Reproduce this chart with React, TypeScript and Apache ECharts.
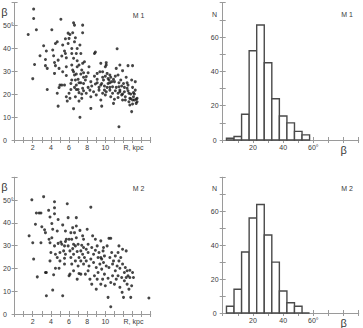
import React, { useEffect, useRef } from "react";
import * as echarts from "echarts";

// Scatter data: [R (kpc), beta (deg)]
const scatterM1: number[][] = [
  [1.5,46.1],[2.1,57.2],[2.1,53.1],[2.4,48.2],[2.0,26.8],[2.2,33.0],[2.8,36.8],[3.2,41.2],[3.4,35.2],[3.4,32.5],
  [3.6,31.3],[3.5,38.9],[3.6,22.1],[4.1,48.2],[4.2,39.3],[4.3,36.8],[4.4,33.9],[4.4,29.1],[4.5,32.5],[4.5,42.2],
  [4.7,42.9],[4.8,34.9],[4.9,31.3],[5.0,24.0],[4.9,22.9],[4.7,20.4],[4.8,14.8],[5.2,24.0],[5.1,52.8],[5.2,36.7],
  [5.3,29.8],[5.5,24.0],[5.5,38.9],[5.6,44.2],[5.6,37.8],[5.7,35.9],[5.7,32.0],[5.7,28.2],[5.8,17.0],[5.9,46.7],
  [5.9,42.2],[6.1,46.1],[6.1,18.2],[6.2,22.1],[6.3,40.0],[6.3,32.8],[6.4,30.6],[6.5,13.7],[6.5,51.2],[6.6,50.2],
  [6.4,46.9],[6.6,42.9],[6.7,44.7],[6.5,35.7],[6.5,29.8],[6.6,28.4],[6.6,23.0],[6.7,26.2],[6.7,18.9],[6.8,24.0],
  [6.9,40.0],[6.9,34.6],[6.9,32.0],[7.0,26.5],[7.0,22.1],[7.1,17.0],[7.2,9.9],[7.2,41.5],[7.3,37.8],[7.3,28.8],
  [7.3,25.0],[7.4,18.2],[7.5,50.2],[7.5,46.9],[7.5,33.5],[7.6,29.4],[7.6,24.7],[7.6,21.5],[7.7,34.2],[7.8,26.2],
  [7.9,27.7],[8.1,29.4],[8.2,32.0],[8.3,21.8],[8.4,13.8],[8.4,25.5],[8.5,23.6],[8.8,27.9],[8.8,37.8],[8.9,38.4],
  [9.0,19.7],[9.1,25.0],[9.1,29.1],[9.3,21.8],[9.4,29.8],[9.5,33.5],[9.5,17.5],[9.6,14.8],[9.6,24.7],[9.7,29.8],
  [9.8,26.2],[9.9,21.8],[10.0,19.7],[10.1,33.8],[10.1,32.8],[10.2,29.1],[10.3,24.7],[10.4,26.2],[10.5,23.0],[10.5,28.4],
  [10.6,18.9],[10.7,25.5],[10.8,20.4],[10.9,16.0],[11.0,25.5],[11.1,21.5],[11.2,31.3],[11.3,39.9],[11.4,28.4],[11.5,23.3],
  [11.5,5.8],[11.6,21.8],[11.6,32.8],[11.7,26.2],[11.8,19.7],[11.9,30.3],[12.0,24.7],[12.1,21.1],[12.2,17.5],[12.3,27.4],
  [12.4,22.6],[12.5,32.5],[12.5,24.0],[12.6,20.4],[12.7,15.3],[12.8,18.0],[12.9,12.4],[13.0,32.5],[13.0,23.0],[13.1,20.7],
  [13.2,17.5],[13.3,25.5],[13.3,21.8],[13.4,16.0],[13.5,18.2],[12.9,26.2],
  [9.5,24.0],[9.7,27.4],[9.9,23.6],[10.0,27.9],[10.2,23.0],[10.3,26.9],[10.5,25.0],[10.6,27.4],[10.8,23.3],[10.9,26.5],
  [11.1,27.9],[11.2,23.0],[11.4,20.4],[11.5,25.0],[11.6,21.1],[11.8,23.6],[11.9,20.1],[12.1,23.0],[12.2,18.9],[12.4,25.0],
  [12.5,21.5],[12.7,18.2],[12.8,20.1],[13.0,17.5],[13.1,18.9],[13.2,20.1],[13.4,17.8],[13.5,16.7],[13.0,15.7],[12.6,16.7],
  [11.9,17.5],[11.4,18.6],[11.0,17.8],[10.5,21.8],[10.1,21.1],[9.7,20.4],[9.3,23.0],[9.1,26.5],[8.9,24.5],[8.7,21.1],
  [8.4,18.9],[8.1,23.0],[7.9,20.4],[7.6,27.4],[7.5,22.6],[7.4,20.1],[7.1,25.0],[7.1,20.7],[6.8,22.1],[6.8,28.8],
  [6.3,26.2],[6.2,24.7],[6.0,20.4],[5.7,18.9],[6.0,44.4],[6.3,37.8],[6.8,37.8],[7.1,32.8],[7.4,30.6],[5.3,41.5],[10.0,32.0]
];

const scatterM2: number[][] = [
  [1.6,34.3],[1.9,50.1],[2.0,31.3],[2.1,24.1],[2.3,39.4],[2.4,44.3],[2.5,16.3],[2.7,44.3],[2.9,44.3],[2.9,31.3],
  [3.0,38.3],[3.2,51.5],[3.3,37.0],[3.4,35.7],[3.4,18.2],[3.5,18.2],[3.5,8.0],[3.75,45.5],[3.8,32.8],[3.9,31.3],
  [3.9,23.3],[3.9,42.6],[4.0,27.0],[4.1,33.5],[4.1,39.7],[4.2,37.2],[4.2,10.5],[4.3,17.2],[4.4,49.3],[4.4,46.6],
  [4.4,44.0],[4.4,29.9],[4.5,26.2],[4.5,20.1],[4.7,24.8],[4.7,36.4],[4.8,41.5],[4.8,31.0],[4.9,20.1],[5.0,27.0],
  [5.0,23.3],[5.1,31.6],[5.2,30.6],[5.3,8.0],[5.3,39.1],[5.4,27.7],[5.5,29.9],[5.5,24.5],[5.5,21.9],[5.6,31.8],
  [5.6,36.4],[5.6,26.2],[5.7,32.8],[5.8,48.4],[5.9,42.3],[5.9,29.9],[6.0,32.8],[6.1,17.5],[6.1,27.7],[6.2,35.7],
  [6.2,24.8],[6.3,21.9],[6.3,32.8],[6.4,28.7],[6.4,37.9],[6.5,19.0],[6.5,26.2],[6.6,35.7],[6.7,29.9],[6.7,23.3],
  [6.8,42.3],[6.8,38.6],[6.8,33.5],[6.9,27.4],[7.0,21.1],[7.0,30.6],[7.1,24.8],[7.1,17.8],[7.2,36.7],[7.3,27.7],
  [7.3,23.3],[7.3,17.5],[7.4,30.2],[7.5,26.2],[7.6,21.9],[7.6,29.2],[7.7,24.8],[7.8,17.5],[7.9,28.4],[7.9,23.3],
  [8.0,37.2],[8.1,30.6],[8.1,27.0],[8.2,21.1],[8.3,15.3],[8.4,24.1],[8.4,46.9],[8.5,29.2],[8.5,13.1],[8.6,34.3],
  [8.7,26.2],[8.7,22.6],[8.8,16.8],[8.9,32.8],[8.9,28.0],[9.0,20.4],[9.0,10.9],[9.1,29.9],[9.2,24.8],[9.2,18.2],
  [9.3,27.0],[9.4,21.9],[9.5,13.1],[9.5,32.1],[9.6,24.1],[9.6,19.7],[9.7,15.3],[9.75,27.7],[9.8,22.6],[9.9,17.5],
  [9.9,25.5],[10.0,12.4],[10.1,21.1],[10.2,29.9],[10.3,15.7],[10.3,7.3],[10.4,20.4],[10.4,33.2],[10.5,24.8],[10.6,33.2],
  [10.6,13.8],[10.6,3.2],[10.7,27.0],[10.8,21.9],[10.8,16.8],[10.9,23.3],[11.0,13.1],[11.1,19.0],[11.1,25.5],[11.2,15.3],
  [11.3,21.1],[11.4,27.0],[11.4,16.8],[11.5,23.3],[11.6,11.7],[11.6,20.1],[11.7,24.8],[11.8,16.0],[11.85,9.5],[11.9,21.9],
  [12.0,7.3],[12.1,18.2],[12.1,14.6],[12.2,20.4],[12.3,16.0],[12.4,19.0],[12.4,13.1],[12.5,16.8],[12.6,10.9],[12.7,19.2],
  [12.7,16.0],[12.8,7.3],[12.9,12.4],[13.0,18.2],[13.1,16.0],[14.8,7.0],[12.3,27.7],[11.9,28.4],[11.5,29.9],
  [6.5,30.6],[7.6,32.8],[8.1,19.0],[9.1,15.3],[9.5,24.8],[9.8,29.2],[7.5,34.3],[6.0,16.8],[6.9,15.3]
];

// Histogram data: bin centres (deg) and counts N
const binCentres = [5, 10, 15, 20, 25, 30, 35, 40, 45, 50, 55];
const countsM1 = [1, 2, 15, 52, 67, 45, 24, 14, 10, 5, 3];
const countsM2 = [4, 14, 36, 56, 64, 46, 30, 13, 6, 4, 0];
const BIN_WIDTH = 5;

const scatterXLabels: Record<number, string> = { 2: "2", 4: "4", 6: "6", 8: "8", 10: "10", 12: "{r|R, kpc}" };
const scatterYLabels: Record<number, string> = { 0: "0", 10: "10", 20: "20", 30: "30", 40: "40", 50: "50°" };
const histXLabels: Record<number, string> = { 20: "20", 40: "40", 60: "60°", 80: "{b|β}" };
const histYLabels: Record<number, string> = { 0: "0", 20: "20", 40: "40", 60: "60" };

const FONT = "Liberation Sans, Arial, sans-serif";
const LINE = "#9a9a9a";
const TXT = "#3a3a3a";

export default function App() {
  const ref = useRef<HTMLDivElement>(null);
  useEffect(() => {
    if (!ref.current) return;
    const chart = echarts.init(ref.current, null, { renderer: "svg" });

    const grids = [
      { left: 13.3, top: 2.7, width: 137.4, height: 137.3 },
      { left: 222.7, top: 2.7, width: 136, height: 137.3 },
      { left: 13.3, top: 177.3, width: 137.4, height: 136.7 },
      { left: 222.7, top: 177.3, width: 136, height: 136.7 },
    ];

    const lineStyle = { color: LINE, width: 1 };
    const tick = { show: true, inside: true, length: 3, lineStyle: { color: LINE, width: 1 } };
    const xAxes: any[] = [];
    const yAxes: any[] = [];
    grids.forEach((_, gi) => {
      const isHist = gi % 2 === 1;
      const xMax = isHist ? 90 : 15;
      const xInt = isHist ? 10 : 1;
      const yMax = isHist ? 80 : 60;
      const xl = isHist ? histXLabels : scatterXLabels;
      const yl = isHist ? histYLabels : scatterYLabels;
      xAxes.push({
        type: "value", gridIndex: gi, position: "bottom", min: 0, max: xMax, interval: xInt,
        axisLine: { show: true, lineStyle }, axisTick: tick, splitLine: { show: false },
        axisLabel: {
          show: true, margin: 4, fontSize: 7, color: TXT, fontFamily: FONT,
          showMinLabel: true, showMaxLabel: true,
          formatter: (v: number) => xl[v] ?? "",
          rich: {
            r: { fontSize: 7, color: TXT, fontFamily: FONT, padding: [0, 0, 0, 20] },
            b: { fontSize: 11, color: TXT, fontFamily: FONT },
          },
        },
      });
      xAxes.push({
        type: "value", gridIndex: gi, position: "top", min: 0, max: xMax, interval: xInt,
        axisLine: { show: true, lineStyle }, axisTick: tick, splitLine: { show: false },
        axisLabel: { show: false },
      });
      yAxes.push({
        type: "value", gridIndex: gi, position: "left", min: 0, max: yMax, interval: 10,
        axisLine: { show: true, lineStyle }, axisTick: tick, splitLine: { show: false },
        axisLabel: isHist
          ? { show: true, margin: 8, align: "center", fontSize: 7, color: TXT, fontFamily: FONT,
              showMinLabel: true, showMaxLabel: true, formatter: (v: number) => yl[v] ?? "" }
          : { show: true, margin: 11.6, align: "left", fontSize: 7, color: TXT, fontFamily: FONT,
              showMinLabel: true, showMaxLabel: true, formatter: (v: number) => yl[v] ?? "" },
      });
      yAxes.push({
        type: "value", gridIndex: gi, position: "right", min: 0, max: yMax, interval: 10,
        axisLine: { show: true, lineStyle }, axisTick: tick, splitLine: { show: false },
        axisLabel: { show: false },
      });
    });

    const histRender = (params: any, api: any) => {
      const c = api.value(0);
      const n = api.value(1);
      const p0 = api.coord([c - BIN_WIDTH / 2, n]);
      const p1 = api.coord([c + BIN_WIDTH / 2, 0]);
      return {
        type: "rect",
        shape: { x: p0[0], y: p0[1], width: p1[0] - p0[0], height: p1[1] - p0[1] },
        style: { fill: "#ffffff", stroke: "#4a4a4a", lineWidth: 1.4 },
      };
    };

    const histData = (counts: number[]) => binCentres.map((c, i) => [c, counts[i]]);

    const txt = (x: number, y: number, text: string, size: number, align: string) => ({
      type: "text", x, y,
      style: { text, fontSize: size, fontFamily: FONT, fill: TXT, align, verticalAlign: "middle" },
      z: 10,
    });

    chart.setOption({
      animation: false,
      grid: grids,
      xAxis: xAxes,
      yAxis: yAxes,
      series: [
        { type: "scatter", xAxisIndex: 0, yAxisIndex: 0, data: scatterM1, symbol: "circle", symbolSize: 3,
          itemStyle: { color: "#161616" } },
        { type: "custom", xAxisIndex: 2, yAxisIndex: 2, data: histData(countsM1), renderItem: histRender, clip: false },
        { type: "scatter", xAxisIndex: 4, yAxisIndex: 4, data: scatterM2, symbol: "circle", symbolSize: 3,
          itemStyle: { color: "#161616" } },
        { type: "custom", xAxisIndex: 6, yAxisIndex: 6, data: histData(countsM2), renderItem: histRender, clip: false },
      ],
      graphic: [
        txt(4.5, 12, "β", 11, "center"),
        txt(4.5, 186.5, "β", 11, "center"),
        txt(214.5, 14.5, "N", 7, "center"),
        txt(214.5, 188, "N", 7, "center"),
        txt(144.5, 15, "M 1", 7, "right"),
        txt(353, 14.5, "M 1", 7, "right"),
        txt(144.5, 188.5, "M 2", 7, "right"),
        txt(353, 188, "M 2", 7, "right"),
      ],
    });
    return () => chart.dispose();
  }, []);
  return (
    <div
      ref={ref}
      style={{ position: "fixed", left: 0, top: 0, width: 363, height: 328, background: "#fff" }}
    />
  );
}
